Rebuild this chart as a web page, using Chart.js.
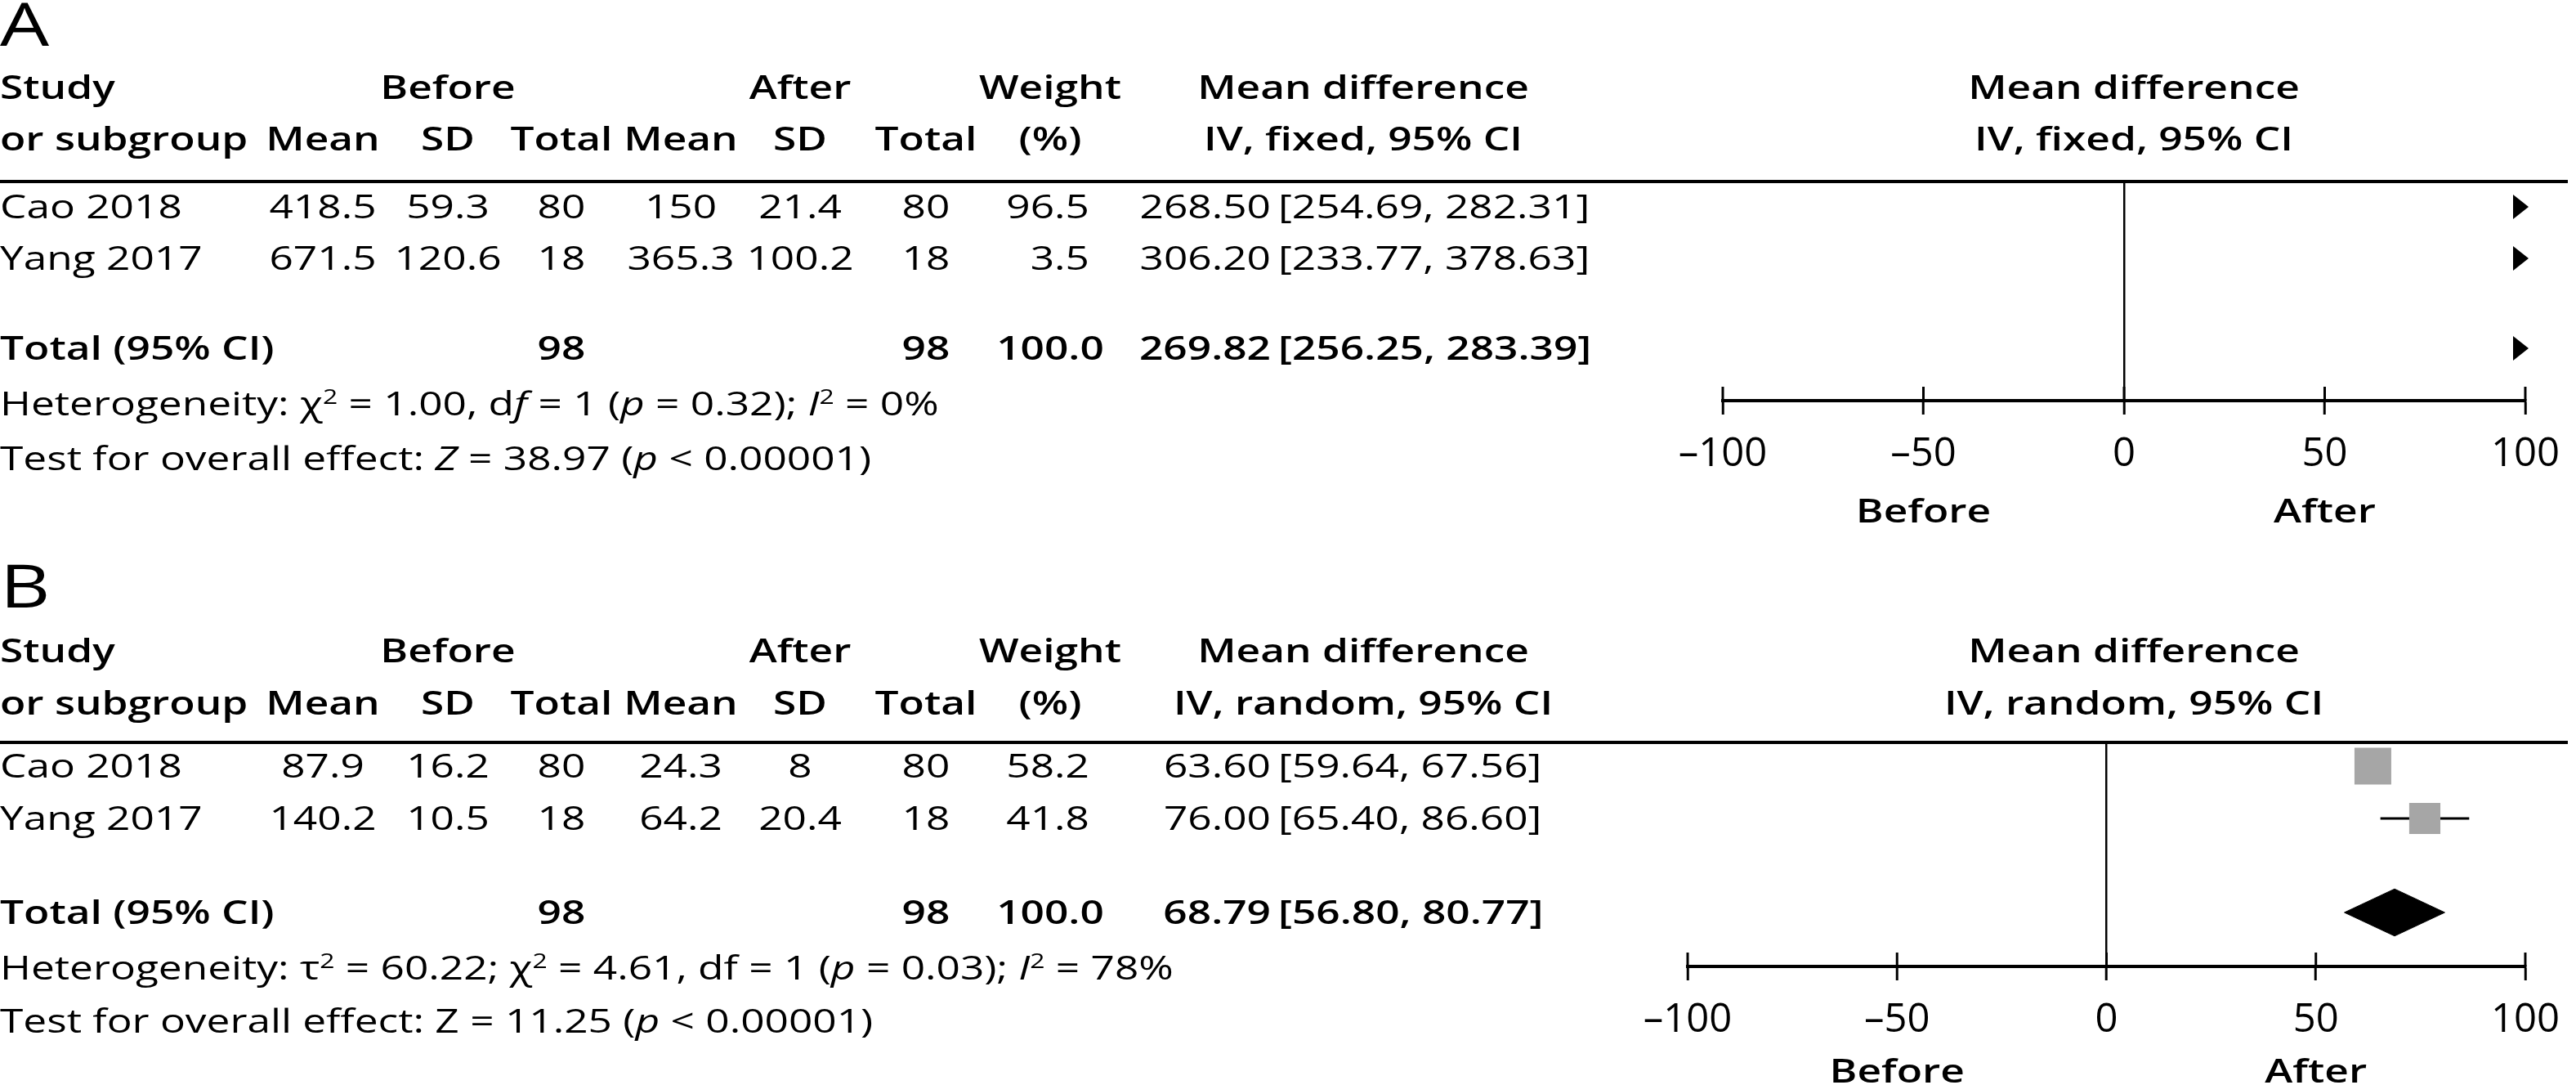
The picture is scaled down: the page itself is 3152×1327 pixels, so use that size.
<!DOCTYPE html>
<html>
<head>
<meta charset="utf-8">
<script src="https://cdn.jsdelivr.net/npm/chart.js@4.4.1/dist/chart.umd.min.js"></script>
<style>
  html, body { margin: 0; padding: 0; background: #fff; overflow: hidden; }
  #wrap { position: relative; width: 3152px; height: 1327px; }
  canvas { position: absolute; left: 0; }
  #chartA { top: 0; }
  #chartB { top: 688px; }
</style>
</head>
<body>
<div id="wrap">
  <canvas id="chartA" width="3152" height="688"></canvas>
  <canvas id="chartB" width="3152" height="639"></canvas>
</div>
<script>
// ---- data ----
const studies = ['Cao 2018', 'Yang 2017'];
const xTicks = [-100, -50, 0, 50, 100];

// A: fixed effect
const aMean1 = [418.5, 671.5];
const aSD1 = [59.3, 120.6];
const aN1 = [80, 18];
const aMean2 = [150, 365.3];
const aSD2 = [21.4, 100.2];
const aN2 = [80, 18];
const aWeight = [96.5, 3.5];
const aMD = [268.50, 306.20];
const aLow = [254.69, 233.77];
const aHigh = [282.31, 378.63];
const aTotalN = [98, 98];
const aTotalWeight = 100.0;
const aTotalMD = [269.82, 256.25, 283.39];

// B: random effects
const bMean1 = [87.9, 140.2];
const bSD1 = [16.2, 10.5];
const bN1 = [80, 18];
const bMean2 = [24.3, 64.2];
const bSD2 = [8, 20.4];
const bN2 = [80, 18];
const bWeight = [58.2, 41.8];
const bMD = [63.60, 76.00];
const bLow = [59.64, 65.40];
const bHigh = [67.56, 86.60];
const bTotalN = [98, 98];
const bTotalWeight = 100.0;
const bTotalMD = [68.79, 56.80, 80.77];

const aHet = [{t: 'Heterogeneity: \u03c7'}, {t: '2', sup: 1}, {t: ' = 1.00, d'}, {t: 'f', i: 1}, {t: ' = 1 ('}, {t: 'p', i: 1},
  {t: ' = 0.32); '}, {t: 'I', i: 1}, {t: '2', sup: 1}, {t: ' = 0%'}];
const aTest = [{t: 'Test for overall effect: '}, {t: 'Z', i: 1}, {t: ' = 38.97 ('}, {t: 'p', i: 1}, {t: ' < 0.00001)'}];
const bHet = [{t: 'Heterogeneity: \u03c4'}, {t: '2', sup: 1}, {t: ' = 60.22; \u03c7'}, {t: '2', sup: 1}, {t: ' = 4.61, df = 1 ('},
  {t: 'p', i: 1}, {t: ' = 0.03); '}, {t: 'I', i: 1}, {t: '2', sup: 1}, {t: ' = 78%'}];
const bTest = [{t: 'Test for overall effect: Z = 11.25 ('}, {t: 'p', i: 1}, {t: ' < 0.00001)'}];

// ---- layout ----
const W = 3152;
const FONT = '"Open Sans", "Noto Sans", sans-serif';
const SIZE = 40;
const BOLD = 600;
const AXIS_H = 150;
const col = { mean1: 395, sd1: 548, n1: 687, mean2: 833, sd2: 979, n2: 1133, wtR: 1333, wtC: 1285, mdR: 1555, ciL: 1564, mdC: 1668, plotC: 2611 };
let SX = 1;

function txt(ctx, segs, x, y, align, opt) {
  opt = opt || {};
  const size = opt.size || SIZE;
  const weight = opt.bold ? BOLD : (opt.weight || 400);
  if (typeof segs === 'string') segs = [{t: segs}];
  const parts = segs.map(s => {
    const fs = s.sup ? size * 0.62 : size;
    const font = (s.i ? 'italic ' : '') + weight + ' ' + fs + 'px ' + FONT;
    ctx.font = font;
    return {s: s, font: font, w: ctx.measureText(s.t).width * SX};
  });
  const total = parts.reduce((a, p) => a + p.w, 0);
  let cx = align === 'center' ? x - total / 2 : align === 'right' ? x - total : x;
  const base = y + size * 0.357;
  ctx.textAlign = 'left';
  ctx.textBaseline = 'alphabetic';
  ctx.fillStyle = '#000';
  parts.forEach(p => {
    ctx.save();
    ctx.font = p.font;
    ctx.translate(cx, base - (p.s.sup ? size * 0.36 : 0));
    ctx.scale(SX, 1);
    ctx.fillText(p.s.t, 0, 0);
    ctx.restore();
    cx += p.w;
  });
}

function arrowImage() {
  const c = document.createElement('canvas');
  c.width = 30; c.height = 30;
  const g = c.getContext('2d');
  g.fillStyle = '#000';
  g.beginPath();
  g.moveTo(0, 0); g.lineTo(19, 15); g.lineTo(0, 30); g.closePath();
  g.fill();
  return c;
}

function makePanel(id, P, L) {
  const canvas = document.getElementById(id);
  const H = canvas.height;
  const yMin = -(L.row0Y - L.lineY) / L.pitch;
  const yMax = yMin + (L.axisY - L.lineY) / L.pitch;
  const totalRow = (L.totalY - L.row0Y) / L.pitch;

  const tablePlugin = {
    id: 'table' + id,
    afterDraw(chart) {
      const ctx = chart.ctx;
      const xs = chart.scales.x, ys = chart.scales.y;
      const area = chart.chartArea;

      // header rule
      ctx.fillStyle = '#000';
      ctx.fillRect(0, area.top - 2, W - 10, 4);

      // upper halves of the axis ticks
      ctx.strokeStyle = '#000';
      ctx.lineWidth = 3;
      xs.ticks.forEach(t => {
        const px = xs.getPixelForValue(t.value);
        ctx.beginPath();
        ctx.moveTo(px, area.bottom - 17);
        ctx.lineTo(px, area.bottom);
        ctx.stroke();
      });

      // side labels under the axis
      txt(ctx, 'Before', xs.getPixelForValue(-50), L.sideY, 'center', {bold: 1});
      txt(ctx, 'After', xs.getPixelForValue(50), L.sideY, 'center', {bold: 1});

      // panel letter
      txt(ctx, P.letter, 0, L.letterY, 'left', {size: 74, weight: 500});

      // column headers
      const h1 = L.head1Y, h2 = L.head2Y, b = {bold: 1};
      txt(ctx, 'Study', 0, h1, 'left', b);
      txt(ctx, 'Before', col.sd1, h1, 'center', b);
      txt(ctx, 'After', col.sd2, h1, 'center', b);
      txt(ctx, 'Weight', col.wtC, h1, 'center', b);
      txt(ctx, 'Mean difference', col.mdC, h1, 'center', b);
      txt(ctx, 'Mean difference', col.plotC, h1, 'center', b);
      txt(ctx, 'or subgroup', 0, h2, 'left', b);
      txt(ctx, 'Mean', col.mean1, h2, 'center', b);
      txt(ctx, 'SD', col.sd1, h2, 'center', b);
      txt(ctx, 'Total', col.n1, h2, 'center', b);
      txt(ctx, 'Mean', col.mean2, h2, 'center', b);
      txt(ctx, 'SD', col.sd2, h2, 'center', b);
      txt(ctx, 'Total', col.n2, h2, 'center', b);
      txt(ctx, '(%)', col.wtC, h2, 'center', b);
      txt(ctx, P.method, col.mdC, h2, 'center', b);
      txt(ctx, P.method, col.plotC, h2, 'center', b);

      // study rows
      studies.forEach((s, i) => {
        const y = ys.getPixelForValue(i);
        txt(ctx, s, 0, y, 'left');
        txt(ctx, String(P.mean1[i]), col.mean1, y, 'center');
        txt(ctx, String(P.sd1[i]), col.sd1, y, 'center');
        txt(ctx, String(P.n1[i]), col.n1, y, 'center');
        txt(ctx, String(P.mean2[i]), col.mean2, y, 'center');
        txt(ctx, String(P.sd2[i]), col.sd2, y, 'center');
        txt(ctx, String(P.n2[i]), col.n2, y, 'center');
        txt(ctx, P.weight[i].toFixed(1), col.wtR, y, 'right');
        txt(ctx, P.md[i].toFixed(2), col.mdR, y, 'right');
        txt(ctx, '[' + P.low[i].toFixed(2) + ', ' + P.high[i].toFixed(2) + ']', col.ciL, y, 'left');
      });

      // total row
      const ty = ys.getPixelForValue(totalRow);
      txt(ctx, 'Total (95% CI)', 0, ty, 'left', b);
      txt(ctx, String(P.totalN[0]), col.n1, ty, 'center', b);
      txt(ctx, String(P.totalN[1]), col.n2, ty, 'center', b);
      txt(ctx, P.totalWeight.toFixed(1), col.wtC, ty, 'center', b);
      txt(ctx, P.totalMD[0].toFixed(2), col.mdR, ty, 'right', b);
      txt(ctx, '[' + P.totalMD[1].toFixed(2) + ', ' + P.totalMD[2].toFixed(2) + ']', col.ciL, ty, 'left', b);

      // footnotes
      txt(ctx, P.het, 0, L.hetY, 'left');
      txt(ctx, P.test, 0, L.testY, 'left');
    }
  };

  return new Chart(canvas, {
    type: 'scatter',
    data: { datasets: P.datasets(totalRow) },
    options: {
      responsive: false,
      animation: false,
      devicePixelRatio: 1,
      events: [],
      layout: { padding: { left: L.plotL, right: W - L.plotR, top: L.lineY, bottom: H - L.axisY - AXIS_H } },
      plugins: { legend: { display: false }, tooltip: { enabled: false } },
      scales: {
        x: {
          type: 'linear',
          min: xTicks[0],
          max: xTicks[xTicks.length - 1],
          afterBuildTicks: s => { s.ticks = xTicks.map(v => ({ value: v })); },
          afterFit: s => { s.height = AXIS_H; },
          border: { display: true, color: '#000', width: 4 },
          grid: {
            drawOnChartArea: true,
            color: c => (c.tick && c.tick.value === 0) ? '#000' : 'rgba(0,0,0,0)',
            lineWidth: 2.5,
            drawTicks: true,
            tickLength: 17,
            tickColor: '#000',
            tickWidth: 3
          },
          ticks: {
            color: '#000',
            font: { family: FONT, size: 49 },
            padding: 20,
            maxRotation: 0,
            autoSkip: false,
            callback: v => v < 0 ? '\u2013' + Math.abs(v) : String(v)
          }
        },
        y: { type: 'linear', display: false, reverse: true, min: yMin, max: yMax }
      }
    },
    plugins: [tablePlugin]
  });
}

function build() {
  const m = document.createElement('canvas').getContext('2d');
  m.font = '400 ' + SIZE + 'px ' + FONT;
  SX = 1070 / m.measureText('Test for overall effect: Z = 11.25 (p < 0.00001)').width;

  const arrow = arrowImage();
  const xMax = xTicks[xTicks.length - 1];

  makePanel('chartA', {
    letter: 'A', method: 'IV, fixed, 95% CI',
    mean1: aMean1, sd1: aSD1, n1: aN1, mean2: aMean2, sd2: aSD2, n2: aN2,
    weight: aWeight, md: aMD, low: aLow, high: aHigh,
    totalN: aTotalN, totalWeight: aTotalWeight, totalMD: aTotalMD,
    het: aHet, test: aTest,
    // every estimate lies beyond the axis, so it shows as an arrow at the edge
    datasets: totalRow => [{
      data: aMD.map((v, i) => ({ x: Math.min(v, xMax), y: i }))
        .concat([{ x: Math.min(aTotalMD[0], xMax), y: totalRow }]),
      pointStyle: arrow,
      clip: false
    }]
  }, {
    letterY: 30, head1Y: 107, head2Y: 170, lineY: 222, row0Y: 253, pitch: 63, totalY: 426,
    hetY: 494, testY: 561, axisY: 490, sideY: 625, plotL: 2108, plotR: 3100
  });

  const boxSide = w => 5.9 * Math.sqrt(w);
  makePanel('chartB', {
    letter: 'B', method: 'IV, random, 95% CI',
    mean1: bMean1, sd1: bSD1, n1: bN1, mean2: bMean2, sd2: bSD2, n2: bN2,
    weight: bWeight, md: bMD, low: bLow, high: bHigh,
    totalN: bTotalN, totalWeight: bTotalWeight, totalMD: bTotalMD,
    het: bHet, test: bTest,
    datasets: totalRow => {
      const half = 0.45;
      const ds = [{
        data: bMD.map((v, i) => ({ x: v, y: i })),
        pointStyle: 'rect',
        pointRadius: bWeight.map(w => boxSide(w) / Math.SQRT2),
        backgroundColor: '#a6a6a6',
        borderWidth: 0,
        clip: false,
        order: 0
      }, {
        data: [
          { x: bTotalMD[1], y: totalRow }, { x: bTotalMD[0], y: totalRow - half },
          { x: bTotalMD[2], y: totalRow }, { x: bTotalMD[0], y: totalRow + half },
          { x: bTotalMD[1], y: totalRow }
        ],
        showLine: true,
        fill: 'shape',
        backgroundColor: '#000',
        borderColor: '#000',
        borderWidth: 1,
        pointRadius: 0,
        tension: 0,
        clip: false,
        order: 0
      }];
      studies.forEach((s, i) => {
        ds.push({
          data: [{ x: bLow[i], y: i }, { x: bHigh[i], y: i }],
          showLine: true,
          borderColor: '#000',
          borderWidth: 3,
          pointRadius: 0,
          clip: false,
          order: 1
        });
      });
      return ds;
    }
  }, {
    letterY: 29, head1Y: 108, head2Y: 172, lineY: 220, row0Y: 249, pitch: 64, totalY: 428,
    hetY: 496, testY: 561, axisY: 494, sideY: 622, plotL: 2065, plotR: 3098
  });
}

Promise.all([
  document.fonts.load('400 40px "Open Sans"'),
  document.fonts.load('600 40px "Open Sans"'),
  document.fonts.load('italic 400 40px "Open Sans"')
]).then(build, build);
</script>
</body>
</html>
